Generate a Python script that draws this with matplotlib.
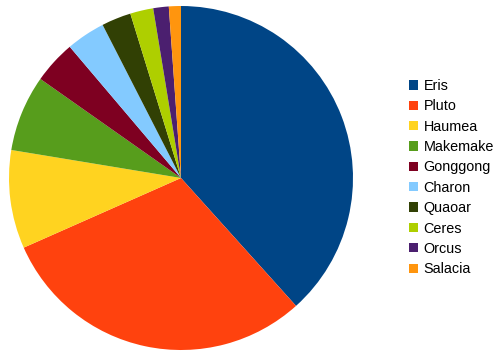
import matplotlib
matplotlib.use("Agg")
import matplotlib.pyplot as plt
from matplotlib.patches import Patch

plt.rcParams['font.family'] = ['Liberation Sans', 'DejaVu Sans']

names = ["Eris", "Pluto", "Haumea", "Makemake", "Gonggong", "Charon",
         "Quaoar", "Ceres", "Orcus", "Salacia"]
masses = [16.6, 13.0, 4.0, 3.1, 1.75, 1.586, 1.2, 0.94, 0.63, 0.49]
colors = ["#004586", "#ff420e", "#ffd320", "#579d1c", "#7e0021",
          "#83caff", "#314004", "#aecf00", "#4b1f6f", "#ff950e"]

fig = plt.figure(figsize=(5.0, 3.56), dpi=100)
ax = fig.add_axes([9/500, 6/356, 344/500, 344/356])
ax.pie(masses, colors=colors, startangle=90, counterclock=False, radius=1.0,
       wedgeprops=dict(linewidth=0))
ax.set_xlim(-1, 1)
ax.set_ylim(-1, 1)
ax.set_aspect('equal')
ax.axis('off')

handles = [Patch(facecolor=c, edgecolor='none') for c in colors]
fig.legend(handles, names, loc='center left', bbox_to_anchor=(409/500, 0.501),
           frameon=False, fontsize=10.4, handlelength=0.6, handleheight=0.6,
           handletextpad=0.4, labelspacing=0.44, borderaxespad=0, borderpad=0)
fig.savefig("out.png", dpi=100)
